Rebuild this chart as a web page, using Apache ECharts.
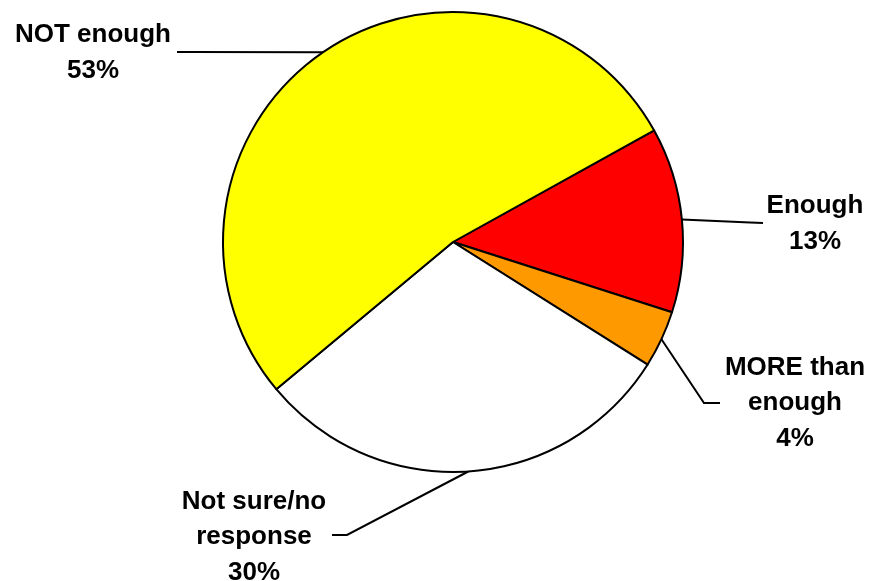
<!DOCTYPE html>
<html>
<head>
<meta charset="utf-8">
<script src="https://cdn.jsdelivr.net/npm/echarts@6/dist/echarts.min.js"></script>
<style>html,body{margin:0;padding:0;background:#fff}#c{width:870px;height:581px}</style>
</head>
<body>
<div id="c"></div>
<script>
var categories = ["Enough", "MORE than\nenough", "Not sure/no\nresponse", "NOT enough"];
var values = [13, 4, 30, 53];
var colors = ["#FF0000", "#FF9900", "#FFFFFF", "#FFFF00"];

// label anchor (centre of text block) and label line bend/end points
var labelPos = [
  {x: 815, y: 224, bend: [750, 222.5], end: [763, 223]},
  {x: 795, y: 403, bend: [704, 403], end: [720, 403]},
  {x: 254, y: 537, bend: [347, 535], end: [332, 535]},
  {x: 93, y: 53, bend: [190, 52], end: [177, 52]}
];

var chart = echarts.init(document.getElementById('c'), null, {renderer: 'canvas'});
chart.setOption({
  backgroundColor: '#ffffff',
  animation: false,
  series: [{
    type: 'pie',
    center: [453, 242],
    radius: 230,
    startAngle: 29,
    clockwise: true,
    avoidLabelOverlap: false,
    data: categories.map(function (n, i) {
      return {name: n, value: values[i], itemStyle: {color: colors[i]}};
    }),
    itemStyle: {borderColor: '#000', borderWidth: 2},
    label: {
      show: true,
      position: 'outside',
      formatter: '{b}\n{c}%',
      fontFamily: 'Liberation Sans, Arial, sans-serif',
      fontWeight: 'bold',
      fontSize: 26,
      lineHeight: 35.5,
      color: '#000',
      align: 'center'
    },
    labelLine: {show: true, length: 20, length2: 20, lineStyle: {color: '#000', width: 2}},
    labelLayout: function (params) {
      var p = labelPos[params.dataIndex];
      var start = params.labelLinePoints ? params.labelLinePoints[0] : p.bend;
      return {
        x: p.x,
        y: p.y,
        align: 'center',
        verticalAlign: 'middle',
        labelLinePoints: [start, p.bend, p.end]
      };
    }
  }]
});
</script>
</body>
</html>
